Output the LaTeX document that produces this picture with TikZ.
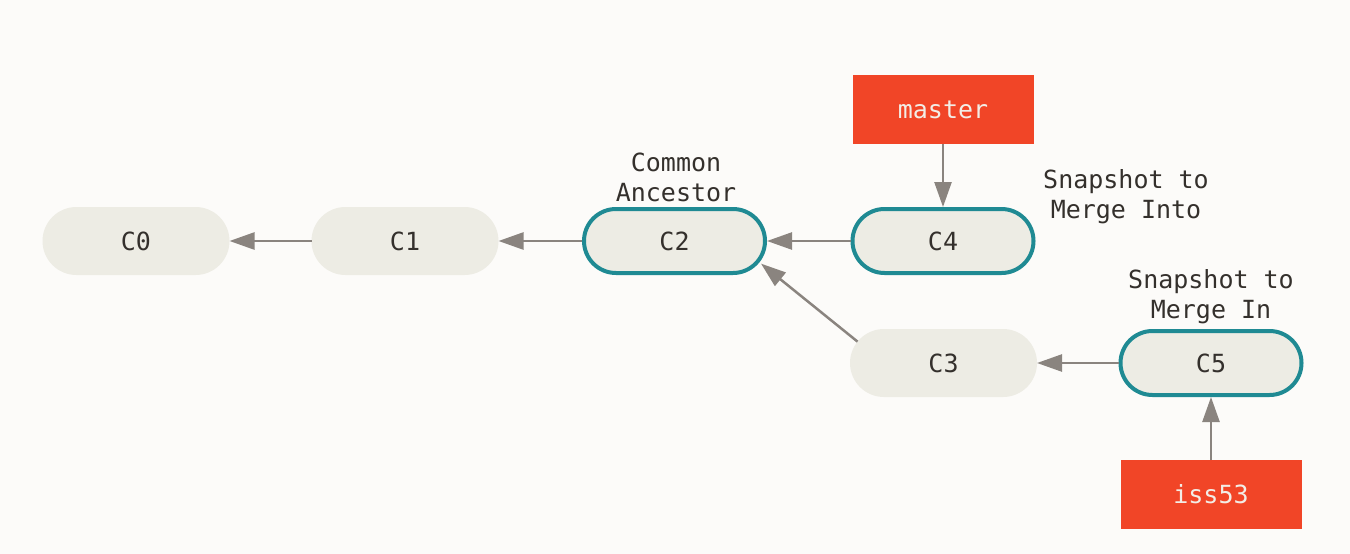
\documentclass[tikz,border=0pt]{standalone}
\usepackage{fontspec}
\setmonofont{DejaVu Sans Mono}
\usetikzlibrary{arrows.meta,calc}
\definecolor{bgc}{HTML}{FCFBF9}
\definecolor{cfill}{HTML}{EDECE4}
\definecolor{teal2}{HTML}{1F8A93}
\definecolor{redb}{HTML}{F14527}
\definecolor{arrgray}{HTML}{8A847F}
\definecolor{txt}{HTML}{34302C}
\definecolor{lighttxt}{HTML}{F3EDE6}
\tikzset{
  commit/.style={fill=cfill, rounded corners=34pt, minimum width=187pt, minimum height=68pt, inner sep=0pt, outer sep=0pt, text=txt, font=\ttfamily\fontsize{25}{30}\selectfont},
  hicommit/.style={commit, draw=teal2, line width=4pt, rounded corners=32pt, minimum width=181pt, minimum height=64pt, outer sep=2pt},
  branch/.style={fill=redb, minimum width=181pt, minimum height=69pt, inner sep=0pt, outer sep=0pt, text=lighttxt, font=\ttfamily\fontsize{25}{30}\selectfont},
  lbl/.style={align=center, text=txt, inner sep=0pt, font=\ttfamily\fontsize{25}{30}\selectfont},
  arr/.style={draw=arrgray, line width=2.5pt, -{Triangle[length=25pt,width=17pt]}, arrgray},
}
\begin{document}
\begin{tikzpicture}[x=1pt,y=-1pt]
\fill[bgc] (0,0) rectangle (1350,554);
\useasboundingbox (0,0) rectangle (1350,554);
\node[commit] (C0) at (136,241) {C0};
\node[commit] (C1) at (405,241) {C1};
\node[hicommit] (C2) at (674.5,241) {C2};
\node[hicommit] (C4) at (943,241) {C4};
\node[commit] (C3) at (943.5,363) {C3};
\node[hicommit] (C5) at (1211,363) {C5};
\node[branch] (master) at (943,109.5) {master};
\node[branch] (iss53) at (1211,494.5) {iss53};
\node[lbl] (lca) at (676,177) {Common\\Ancestor};
\node[lbl] (linto) at (1126,197) {Snapshot to\\Merge Into};
\node[lbl] (lin) at (1211,297) {Snapshot to\\Merge In};
\coordinate (c3l) at ($(C3.west)+(34,0)$);
\coordinate (c2r) at ($(C2.east)+(-34,0)$);
\draw[arr] (C1) -- (C0);
\draw[arr] (C2) -- (C1);
\draw[arr] (C4) -- (C2);
\draw[arr, shorten <=34pt, shorten >=36pt] (c3l) -- (c2r);
\draw[arr] (C5) -- (C3);
\draw[arr] (master) -- (C4);
\draw[arr] (iss53) -- (C5);
\end{tikzpicture}
\end{document}
